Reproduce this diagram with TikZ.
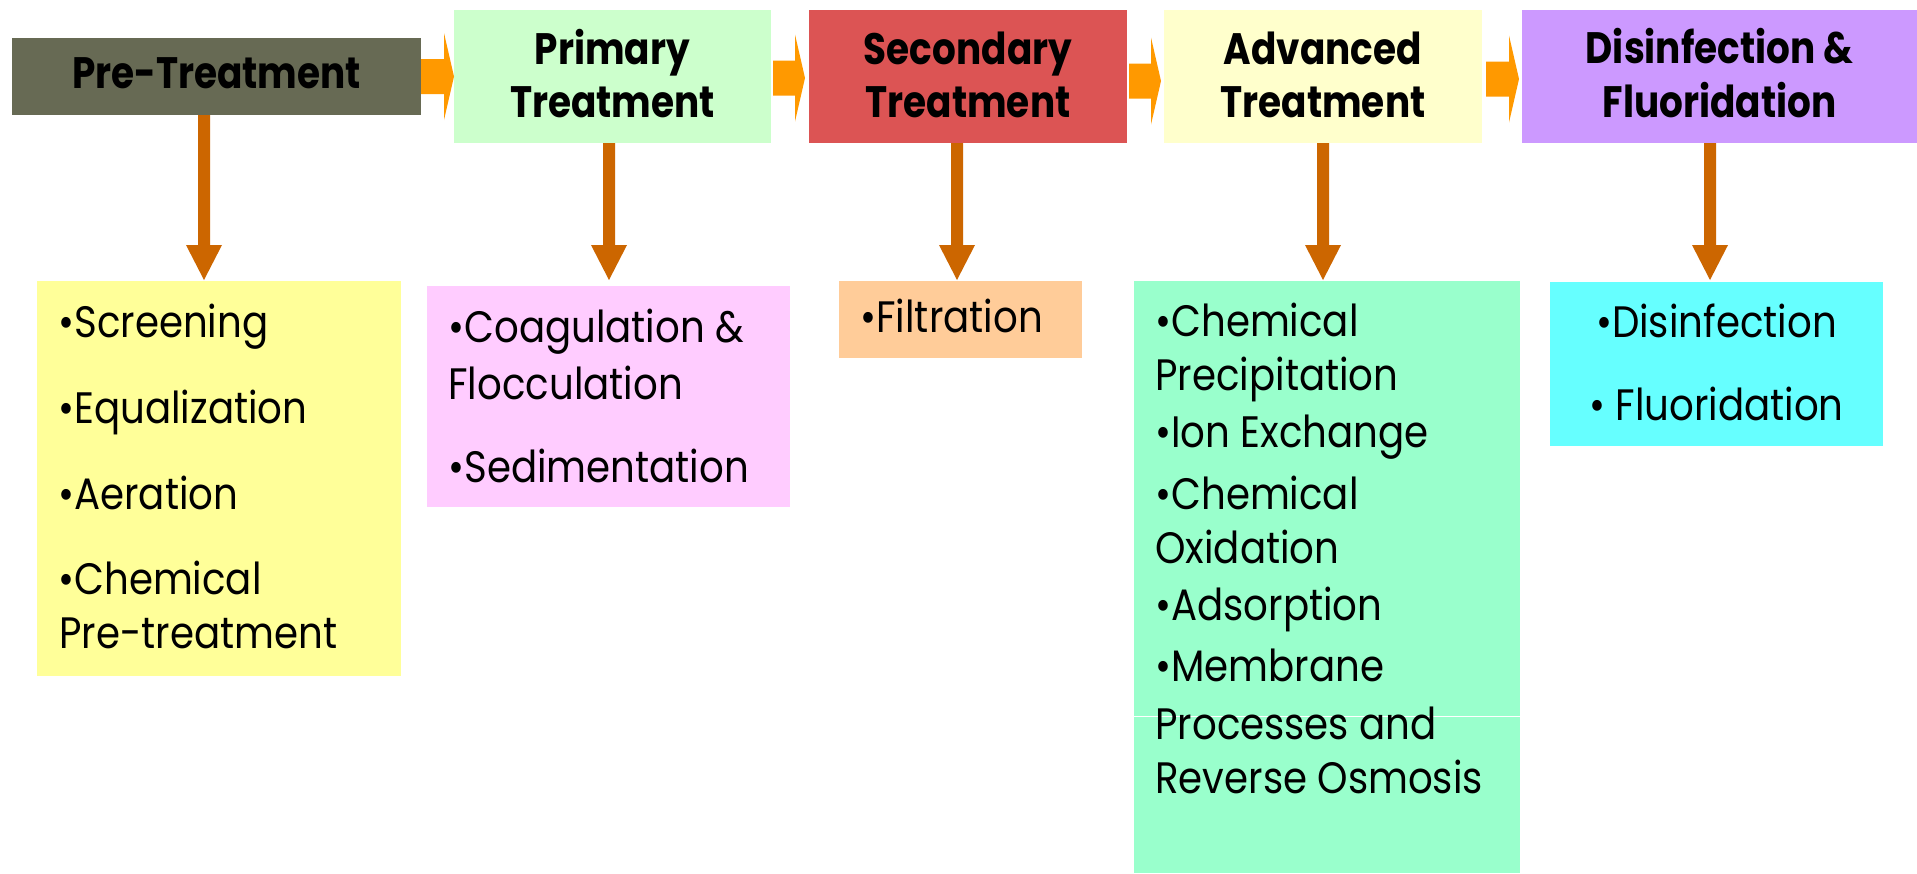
\documentclass[tikz,border=0pt]{standalone}
\usepackage{fontspec}
\setmainfont{Poppins}[FakeStretch=0.88]
\newfontfamily\headfont{Poppins}[FakeStretch=0.85]
\usetikzlibrary{calc}
\definecolor{preC}{HTML}{676A54}
\definecolor{primC}{HTML}{CCFFCC}
\definecolor{secC}{HTML}{DC5454}
\definecolor{advC}{HTML}{FFFFCC}
\definecolor{disC}{HTML}{CC99FF}
\definecolor{preL}{HTML}{FFFF99}
\definecolor{primL}{HTML}{FFCCFF}
\definecolor{secL}{HTML}{FFCC99}
\definecolor{advL}{HTML}{99FFCC}
\definecolor{disL}{HTML}{66FFFF}
\definecolor{flowC}{HTML}{FF9900}
\definecolor{dropC}{HTML}{CC6600}
\tikzset{
  blk/.style={inner sep=0pt, outer sep=0pt, anchor=north west, draw=none},
  bodytxt/.style={inner sep=0pt, anchor=base west, text=black, font=\fontsize{22}{26}\selectfont},
  bodyc/.style={bodytxt, anchor=base},
  headtxt/.style={inner sep=0pt, anchor=base, text=black, font=\headfont\bfseries\fontsize{22}{26}\selectfont},
  flowarr/.style={fill=flowC},
  droparr/.style={fill=dropC},
}
% #1 from, #2 to, #3 dy, #4 start gap, #5 end gap
\newcommand\flowarrow[5]{%
  \fill[flowarr] ($(#1.east)+(#4,#3-17.5)$) -- ($(#2.west)+(-#5-10,#3-17.5)$) -- ($(#2.west)+(-#5-10,#3-43.5)$) -- ($(#2.west)+(-#5,#3)$) -- ($(#2.west)+(-#5-10,#3+43.5)$) -- ($(#2.west)+(-#5-10,#3+17.5)$) -- ($(#1.east)+(#4,#3+17.5)$) -- cycle;}
% #1 from, #2 to, #3 x, #4 gap above target
\newcommand\droparrow[4]{%
  \fill[droparr] ($(#1.south -| #3,0)+(-6,0)$) -- ($(#2.north -| #3,0)+(-6,-#4-35)$) -- ($(#2.north -| #3,0)+(-18,-#4-35)$) -- ($(#2.north -| #3,0)+(0,-#4)$) -- ($(#2.north -| #3,0)+(18,-#4-35)$) -- ($(#2.north -| #3,0)+(6,-#4-35)$) -- ($(#1.south -| #3,0)+(6,0)$) -- cycle;}
\begin{document}
\begin{tikzpicture}[x=0.5pt,y=-0.5pt]
\useasboundingbox (0,0) rectangle (1917,873);
\fill[white] (0,0) rectangle (1917,873);
% header boxes
\node[blk, fill=preC, minimum width=204.5pt, minimum height=38.5pt] (pre) at (12,38) {};
\node[blk, fill=primC, minimum width=158.5pt, minimum height=66.5pt] (prim) at (454,10) {};
\node[blk, fill=secC, minimum width=159pt, minimum height=66.5pt] (sec) at (809,10) {};
\node[blk, fill=advC, minimum width=159pt, minimum height=66.5pt] (adv) at (1164,10) {};
\node[blk, fill=disC, minimum width=197.5pt, minimum height=66.5pt] (dis) at (1522,10) {};
% list boxes
\node[blk, fill=preL, minimum width=182pt, minimum height=197.5pt] (prelist) at (37,281) {};
\node[blk, fill=primL, minimum width=181.5pt, minimum height=110.5pt] (primlist) at (427,286) {};
\node[blk, fill=secL, minimum width=121.5pt, minimum height=38.5pt] (seclist) at (839,281) {};
\node[blk, fill=advL, minimum width=193pt, minimum height=296pt] (advlist) at (1134,281) {};
\node[blk, fill=disL, minimum width=166.5pt, minimum height=82pt] (dislist) at (1550,282) {};
\draw[white, line width=0.5pt] (advlist.west |- 0,716) -- (advlist.east |- 0,716);
% header texts
\node[headtxt] (pret) at (216.5,88) {Pre-Treatment};
\node[headtxt] (primt1) at (612.5,64) {Primary};
\node[headtxt] (primt2) at (612.5,117) {Treatment};
\node[headtxt] (sect1) at (968,64) {Secondary};
\node[headtxt] (sect2) at (968,117) {Treatment};
\node[headtxt] (advt1) at (1323,64) {Advanced};
\node[headtxt] (advt2) at (1323,117) {Treatment};
\node[headtxt] (dist1) at (1719.5,63) {Disinfection \&};
\node[headtxt] (dist2) at (1719.5,117) {Fluoridation};
% list texts
\node[bodytxt] (p1) at (58,337) {\textbullet Screening};
\node[bodytxt] (p2) at (58,423) {\textbullet Equalization};
\node[bodytxt] (p3) at (58,509) {\textbullet Aeration};
\node[bodytxt] (p4) at (58,594) {\textbullet Chemical};
\node[bodytxt] (p5) at (59,648) {Pre-treatment};
\node[bodytxt] (q1) at (448,342) {\textbullet Coagulation \&};
\node[bodytxt] (q2) at (448,399) {Flocculation};
\node[bodytxt] (q3) at (448,482) {\textbullet Sedimentation};
\node[bodytxt] (s1) at (860,332) {\textbullet Filtration};
\node[bodytxt] (a1) at (1155,336) {\textbullet Chemical};
\node[bodytxt] (a2) at (1155,390) {Precipitation};
\node[bodytxt] (a3) at (1155,447) {\textbullet Ion Exchange};
\node[bodytxt] (a4) at (1155,509) {\textbullet Chemical};
\node[bodytxt] (a5) at (1155,563) {Oxidation};
\node[bodytxt] (a6) at (1155,620) {\textbullet Adsorption};
\node[bodytxt] (a7) at (1155,681) {\textbullet Membrane};
\node[bodytxt] (a8) at (1155,739) {Processes and};
\node[bodytxt] (a9) at (1155,793) {Reverse Osmosis};
\node[bodyc] (d1) at (1716.5,337) {\textbullet Disinfection};
\node[bodyc] (d2) at (1716.5,420) {\textbullet{} Fluoridation};
% connectors
\flowarrow{pre}{prim}{0}{0}{0}
\flowarrow{prim}{sec}{1.5}{2}{4}
\flowarrow{sec}{adv}{4.5}{2}{3}
\flowarrow{adv}{dis}{2.5}{4}{3}
\droparrow{pre}{prelist}{204}{1}
\droparrow{prim}{primlist}{609}{6}
\droparrow{sec}{seclist}{957}{1}
\droparrow{adv}{advlist}{1323}{1}
\droparrow{dis}{dislist}{1710}{2}
\end{tikzpicture}
\end{document}
